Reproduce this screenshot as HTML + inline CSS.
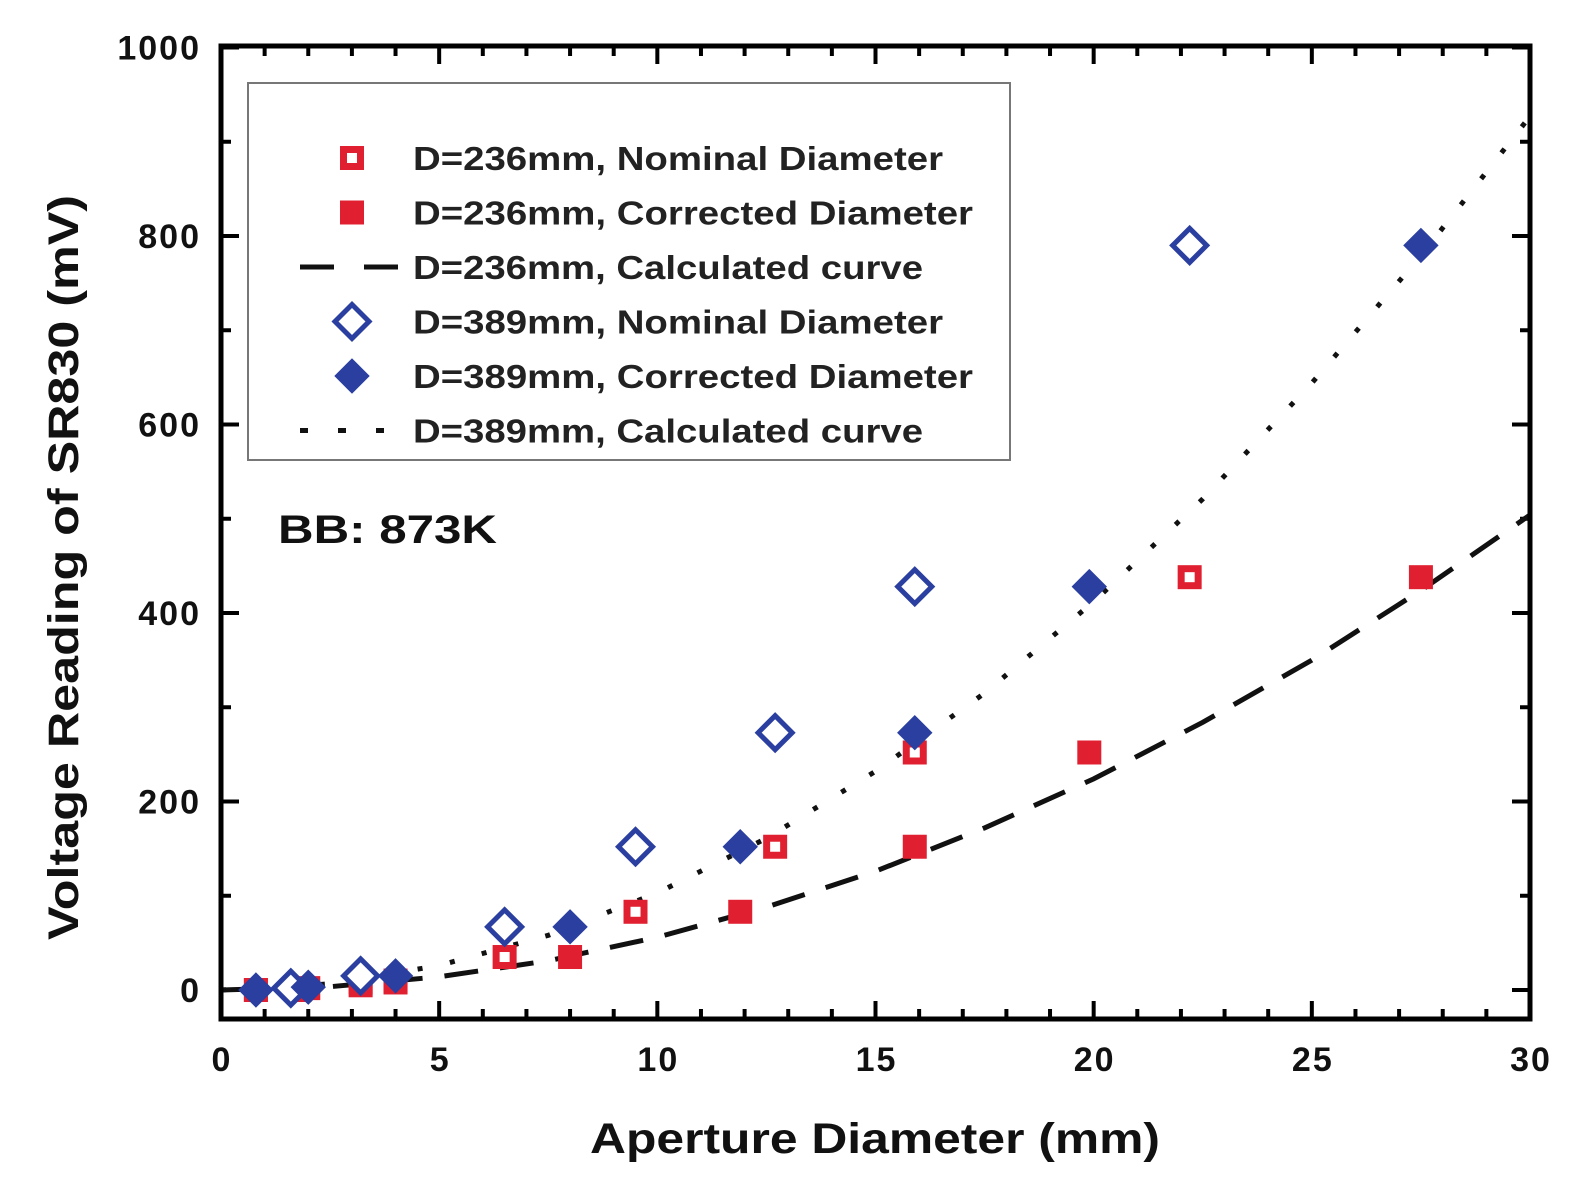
<!DOCTYPE html>
<html><head><meta charset="utf-8"><style>
body{margin:0;background:#fff;}
svg{display:block;font-family:"Liberation Sans",Arial,sans-serif;font-weight:bold;}
</style></head><body>
<svg id="chart" width="1575" height="1194" viewBox="0 0 1575 1194" xmlns="http://www.w3.org/2000/svg">
<g id="ticks"></g>
<g id="curves"></g>
<g id="marks"></g>
<rect x="221" y="46" width="1309" height="973" fill="none" stroke="#000" stroke-width="5"/>
<g id="labels" font-size="34" fill="#111" letter-spacing="2"></g>
<text x="590" y="1153" textLength="570" lengthAdjust="spacingAndGlyphs" font-size="43" fill="#111">Aperture Diameter (mm)</text>
<text transform="translate(78,940) rotate(-90)" textLength="745" lengthAdjust="spacingAndGlyphs" font-size="43" fill="#111">Voltage Reading of SR830 (mV)</text>
<text x="278" y="543" textLength="219" lengthAdjust="spacingAndGlyphs" font-size="40" fill="#111">BB: 873K</text>
<g>
<rect x="248" y="83" width="762" height="377" fill="#fff" stroke="#777" stroke-width="2"/>
<g id="legend" font-size="33" fill="#222"></g>
</g>
</svg>
<script>
const xTicks=[0,5,10,15,20,25,30];
const yTicks=[0,200,400,600,800,1000];
const redNomX=[0.8,2,3.2,4,6.5,9.5,12.7,15.9,22.2];
const redNomY=[0,2,8,8,35,83,152,252,438];
const redCorX=[0.8,1.8,3.2,4,8,11.9,15.9,19.9,27.5];
const redCorY=[0,0,5,10,35,83,152,252,438];
const blueNomX=[1.6,3.2,6.5,9.5,12.7,15.9,22.2];
const blueNomY=[2,15,67,152,273,428,790];
const blueCorX=[0.8,2,4,8,11.9,15.9,19.9,27.5];
const blueCorY=[0,3,15,67,152,273,428,790];
const curveX=[0,2.5,5,7.5,10,12.5,15,17.5,20,22.5,25,27.5,30];
const dashY=[0,3.5,14,31,56,88,126,172,224,284,350,424,504];
const dotY=[0,6.5,26,58,103,161,232,315,412,521,644,779,927];
const NS='http://www.w3.org/2000/svg';
const X0=221,X1=1530,Y0=990,YK=0.9425;
const sx=v=>X0+(X1-X0)*v/30, sy=v=>Y0-v*YK;
function mk(t,a,p){const e=document.createElementNS(NS,t);for(const k in a)e.setAttribute(k,a[k]);p.appendChild(e);return e;}
const tk=document.getElementById('ticks'),lb=document.getElementById('labels');
for(let i=0;i<=30;i++){const x=sx(i),L=i%5?10:18;
 mk('line',{x1:x,y1:1019,x2:x,y2:1019-L,stroke:'#000','stroke-width':4},tk);
 mk('line',{x1:x,y1:46,x2:x,y2:46+L,stroke:'#000','stroke-width':4},tk);}
for(let v=0;v<=1000;v+=100){const y=sy(v),L=v%200?10:18;
 mk('line',{x1:221,y1:y,x2:221+L,y2:y,stroke:'#000','stroke-width':4},tk);
 mk('line',{x1:1530,y1:y,x2:1530-L,y2:y,stroke:'#000','stroke-width':4},tk);}
xTicks.forEach(v=>{const t=mk('text',{x:sx(v)+1,y:1071,'text-anchor':'middle'},lb);t.textContent=v;

});
yTicks.forEach(v=>{const t=mk('text',{x:201,y:sy(v)+12,'text-anchor':'end'},lb);t.textContent=v;

});
const cv=document.getElementById('curves');
function curve(ys,dash,w,name){const p=mk('polyline',{points:curveX.map((x,i)=>sx(x)+','+sy(ys[i])).join(' '),fill:'none',stroke:'#111','stroke-width':w,'stroke-dasharray':dash},cv);

}
curve(dashY,'34 22',5,'curve-d236-calculated');
curve(dotY,'5 28',5,'curve-d389-calculated');
const mg=document.getElementById('marks');
function sq(x,y,fill,p){const g=mk('g',{},p);mk('rect',{x:x-12,y:y-12,width:24,height:24,fill:'#e02030'},g);if(!fill)mk('rect',{x:x-5,y:y-5,width:10,height:10,fill:'#fff'},g);return g;}
function dm(x,y,fill,p){const r=17;return mk('polygon',{points:`${x},${y-r} ${x+r},${y} ${x},${y+r} ${x-r},${y}`,fill:fill?'#2a3fa0':'#fff',stroke:'#2a3fa0','stroke-width':fill?1:5},p);}
redNomX.forEach((x,i)=>{const g=sq(sx(x),sy(redNomY[i]),false,mg);});
redCorX.forEach((x,i)=>{const g=sq(sx(x),sy(redCorY[i]),true,mg);});
blueNomX.forEach((x,i)=>{const g=dm(sx(x),sy(blueNomY[i]),false,mg);});
blueCorX.forEach((x,i)=>{const g=dm(sx(x),sy(blueCorY[i]),true,mg);});
const lg=document.getElementById('legend');
const items=['D=236mm, Nominal Diameter','D=236mm, Corrected Diameter','D=236mm, Calculated curve','D=389mm, Nominal Diameter','D=389mm, Corrected Diameter','D=389mm, Calculated curve'];
const lens=[530,560,510,530,560,510];
items.forEach((s,i)=>{const y=158+i*54.5;
 const g=mk('g',{},lg);
 
 
 if(i==0)sq(352,y,false,g);if(i==1)sq(352,y,true,g);
 if(i==3)dm(352,y,false,g);if(i==4)dm(352,y,true,g);
 if(i==2)mk('line',{x1:300,y1:y,x2:404,y2:y,stroke:'#111','stroke-width':5,'stroke-dasharray':'34 30'},g);
 if(i==5)mk('line',{x1:300,y1:y,x2:404,y2:y,stroke:'#111','stroke-width':5,'stroke-dasharray':'8 30'},g);
 const t=mk('text',{x:413,y:y+12,textLength:lens[i],lengthAdjust:'spacingAndGlyphs'},g);t.textContent=s;});
</script>
</body></html>
